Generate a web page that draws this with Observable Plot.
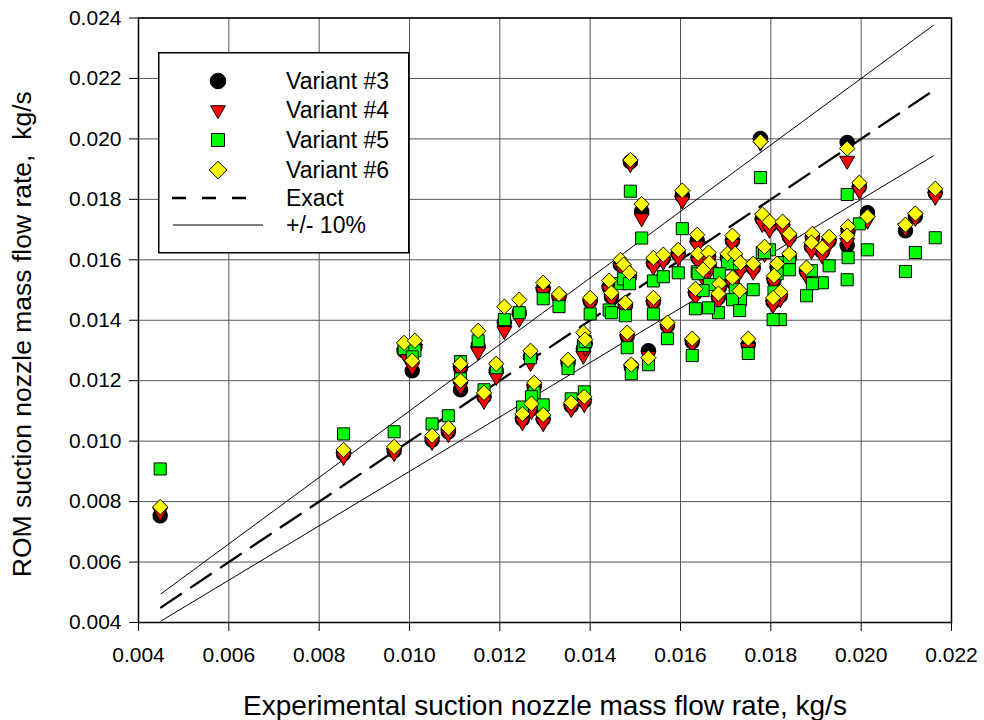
<!DOCTYPE html>
<html>
<head>
<meta charset="utf-8">
<script src="https://cdn.jsdelivr.net/npm/d3@7"></script>
<script src="https://cdn.jsdelivr.net/npm/@observablehq/plot@0.6"></script>
<style>
  body { margin: 0; background: #fff; }
  #chart { position: relative; width: 984px; height: 720px; font-family: "Liberation Sans", Arial, sans-serif; }
  #legend { position: absolute; left: 158px; top: 52px; }
</style>
</head>
<body>
<div id="chart"></div>
<script>
// Experimental suction nozzle mass flow rate (kg/s), one entry per test point
const expX = [
  0.00448, 0.00854, 0.00966, 0.00988, 0.01012, 0.01006, 0.01113, 0.01113, 0.01152, 0.01165,
  0.01192, 0.01210, 0.01243, 0.01268, 0.01276, 0.01250, 0.01270, 0.01296, 0.01296, 0.01331,
  0.01351, 0.01358, 0.01387, 0.01385, 0.01389, 0.01400, 0.01442, 0.01447, 0.01467, 0.01474,
  0.01478, 0.01482, 0.01491, 0.01487, 0.01489, 0.01514, 0.01529, 0.01540, 0.01540, 0.01562,
  0.01571, 0.01595, 0.01604, 0.01626, 0.01637, 0.01715, 0.01777, 0.01781, 0.01797, 0.01826,
  0.01841, 0.01969, 0.01996, 0.02014, 0.02098, 0.02120, 0.02164, 0.01971, 0.01969, 0.01929,
  0.01914, 0.01892, 0.01890, 0.01879, 0.01786, 0.01841, 0.01814, 0.01807, 0.01821, 0.01805,
  0.01750, 0.01704, 0.01721, 0.01733, 0.01761, 0.01715, 0.01686, 0.01684, 0.01731, 0.01633,
  0.01639, 0.01662, 0.01664, 0.01650, 0.01050, 0.01086
];

// ROM predictions (kg/s) for each variant, same order as expX
const variant3 = [
  0.00753, 0.00958, 0.00968, 0.01299, 0.01312, 0.01233, 0.01243, 0.01170, 0.01315, 0.01147,
  0.01233, 0.01392, 0.01425, 0.01282, 0.01180, 0.01073, 0.01107, 0.01073, 0.01504, 0.01477,
  0.01259, 0.01117, 0.01134, 0.01306, 0.01322, 0.01464, 0.01510, 0.01478, 0.01584, 0.01575,
  0.01448, 0.01346, 0.01246, 0.01544, 0.01924, 0.01761, 0.01299, 0.01589, 0.01461, 0.01604,
  0.01382, 0.01620, 0.01812, 0.01329, 0.01663, 0.01663, 0.02001, 0.01736, 0.01713, 0.01716,
  0.01676, 0.01988, 0.01842, 0.01756, 0.01696, 0.01743, 0.01822, 0.01696, 0.01647, 0.01663,
  0.01627, 0.01673, 0.01643, 0.01561, 0.01630, 0.01607, 0.01574, 0.01534, 0.01481, 0.01461,
  0.01319, 0.01607, 0.01604, 0.01577, 0.01574, 0.01527, 0.01508, 0.01475, 0.01485, 0.01491,
  0.01607, 0.01610, 0.01577, 0.01554, 0.01004, 0.01031
];
const variant4 = [
  0.00766, 0.00948, 0.00961, 0.01292, 0.01306, 0.01246, 0.01233, 0.01180, 0.01296, 0.01134,
  0.01213, 0.01365, 0.01405, 0.01259, 0.01173, 0.01063, 0.01100, 0.01060, 0.01494, 0.01467,
  0.01253, 0.01107, 0.01123, 0.01283, 0.01309, 0.01454, 0.01500, 0.01471, 0.01574, 0.01564,
  0.01438, 0.01339, 0.01240, 0.01534, 0.01917, 0.01738, 0.01282, 0.01577, 0.01451, 0.01594,
  0.01372, 0.01607, 0.01796, 0.01322, 0.01647, 0.01653, 0.01988, 0.01719, 0.01700, 0.01703,
  0.01663, 0.01928, 0.01829, 0.01730, 0.01706, 0.01739, 0.01809, 0.01690, 0.01657, 0.01653,
  0.01614, 0.01663, 0.01630, 0.01547, 0.01620, 0.01597, 0.01564, 0.01524, 0.01471, 0.01451,
  0.01309, 0.01594, 0.01590, 0.01564, 0.01561, 0.01518, 0.01498, 0.01465, 0.01471, 0.01478,
  0.01594, 0.01597, 0.01564, 0.01541, 0.00998, 0.01024
];
const variant5 = [
  0.00908, 0.01024, 0.01031, 0.01306, 0.01299, 0.01279, 0.01263, 0.01206, 0.01332, 0.01170,
  0.01243, 0.01402, 0.01425, 0.01276, 0.01160, 0.01113, 0.01147, 0.01120, 0.01471, 0.01445,
  0.01240, 0.01140, 0.01163, 0.01316, 0.01329, 0.01421, 0.01434, 0.01425, 0.01521, 0.01537,
  0.01415, 0.01309, 0.01223, 0.01521, 0.01827, 0.01672, 0.01253, 0.01530, 0.01421, 0.01544,
  0.01339, 0.01557, 0.01703, 0.01283, 0.01560, 0.01587, 0.01872, 0.01624, 0.01633, 0.01591,
  0.01608, 0.01816, 0.01719, 0.01633, 0.01561, 0.01624, 0.01673, 0.01607, 0.01534, 0.01580,
  0.01524, 0.01521, 0.01564, 0.01481, 0.01624, 0.01567, 0.01554, 0.01494, 0.01402, 0.01402,
  0.01290, 0.01587, 0.01501, 0.01468, 0.01501, 0.01468, 0.01554, 0.01425, 0.01432, 0.01438,
  0.01554, 0.01441, 0.01518, 0.01498, 0.01057, 0.01084
];
const variant6 = [
  0.00782, 0.00971, 0.00981, 0.01325, 0.01332, 0.01266, 0.01256, 0.01200, 0.01365, 0.01160,
  0.01256, 0.01445, 0.01468, 0.01299, 0.01193, 0.01090, 0.01124, 0.01087, 0.01524, 0.01487,
  0.01269, 0.01127, 0.01147, 0.01359, 0.01336, 0.01474, 0.01531, 0.01491, 0.01600, 0.01584,
  0.01458, 0.01359, 0.01253, 0.01557, 0.01930, 0.01784, 0.01276, 0.01606, 0.01474, 0.01617,
  0.01392, 0.01633, 0.01829, 0.01339, 0.01683, 0.01680, 0.01991, 0.01751, 0.01726, 0.01726,
  0.01686, 0.01968, 0.01855, 0.01743, 0.01716, 0.01753, 0.01835, 0.01710, 0.01680, 0.01676,
  0.01640, 0.01686, 0.01657, 0.01574, 0.01643, 0.01620, 0.01587, 0.01547, 0.01494, 0.01474,
  0.01339, 0.01620, 0.01620, 0.01590, 0.01587, 0.01541, 0.01521, 0.01488, 0.01498, 0.01504,
  0.01620, 0.01624, 0.01590, 0.01567, 0.01018, 0.01044
];

// Axis ticks
const xTicks = [0.004, 0.006, 0.008, 0.010, 0.012, 0.014, 0.016, 0.018, 0.020, 0.022];
const yTicks = [0.004, 0.006, 0.008, 0.010, 0.012, 0.014, 0.016, 0.018, 0.020, 0.022, 0.024];

// Span of the reference lines (exact and +/- 10 %)
const refX = [0.0045, 0.0216];

const seriesNames = ["Variant #3", "Variant #4", "Variant #5", "Variant #6"];
const xTitle = "Experimental suction nozzle mass flow rate, kg/s";
const yTitle = "ROM suction nozzle mass flow rate,  kg/s";

const rows = expX.map((x, i) => ({x, v3: variant3[i], v4: variant4[i], v5: variant5[i], v6: variant6[i]}));

const font = '"Liberation Sans", Arial, sans-serif';

// Downward-pointing triangle symbol
const triangleDown = {
  draw(ctx, size) {
    const y = -Math.sqrt(size / (Math.sqrt(3) * 3));
    ctx.moveTo(0, -y * 2);
    ctx.lineTo(-Math.sqrt(3) * y, y);
    ctx.lineTo(Math.sqrt(3) * y, y);
    ctx.closePath();
  }
};

const plot = Plot.plot({
  width: 984,
  height: 720,
  marginLeft: 138,
  marginRight: 33,
  marginTop: 17.5,
  marginBottom: 98,
  style: {fontFamily: font, background: "#fff", color: "#000"},
  x: {domain: [0.004, 0.022]},
  y: {domain: [0.004, 0.024]},
  marks: [
    Plot.gridX(xTicks, {stroke: "#555", strokeOpacity: 1, strokeWidth: 1}),
    Plot.gridY(yTicks, {stroke: "#555", strokeOpacity: 1, strokeWidth: 1}),
    Plot.frame({stroke: "#000", strokeWidth: 1.5}),
    Plot.axisX(xTicks, {tickFormat: d3.format(".3f"), tickSize: 9, tickPadding: 16, fontSize: 21, label: null, stroke: "#000"}),
    Plot.axisY(yTicks, {tickFormat: d3.format(".3f"), tickSize: 9, tickPadding: 8, fontSize: 21, label: null, stroke: "#000"}),
    Plot.line(refX, {x: d => d, y: d => d, stroke: "#000", strokeWidth: 2.3, strokeDasharray: "24,12"}),
    Plot.line(refX, {x: d => d, y: d => d * 1.1, stroke: "#000", strokeWidth: 1}),
    Plot.line(refX, {x: d => d, y: d => d * 0.9, stroke: "#000", strokeWidth: 1}),
    Plot.dot(rows, {x: "x", y: "v3", symbol: "circle", r: 7, fill: "#000", stroke: "#000"}),
    Plot.dot(rows, {x: "x", y: "v4", symbol: triangleDown, r: 5.6, fill: "#ff0000", stroke: "#000", strokeWidth: 1}),
    Plot.dot(rows, {x: "x", y: "v5", symbol: "square", r: 6.8, fill: "#00ff00", stroke: "#000", strokeWidth: 1}),
    Plot.dot(rows, {x: "x", y: "v6", symbol: "diamond2", r: 6.9, fill: "#ffff00", stroke: "#000", strokeWidth: 1}),
    Plot.text([xTitle], {frameAnchor: "bottom", dy: 84, text: d => d, fontSize: 28, textAnchor: "middle", lineAnchor: "middle"}),
    Plot.text([yTitle], {frameAnchor: "left", dx: -116, dy: 14, rotate: -90, text: d => d, fontSize: 26.5, textAnchor: "middle", lineAnchor: "middle"})
  ]
});

const chart = document.getElementById("chart");
chart.appendChild(plot);

// Legend box drawn inside the plotting area
const legendItems = [
  {name: seriesNames[0], type: "circle", fill: "#000", size: 190},
  {name: seriesNames[1], type: "triangle", fill: "#ff0000", size: 95},
  {name: seriesNames[2], type: "square", fill: "#00ff00", size: 169},
  {name: seriesNames[3], type: "diamond", fill: "#ffff00", size: 200}
];
const rowY = [29, 58, 88, 118];
const legend = d3.create("svg")
  .attr("id", "legend")
  .attr("width", 252)
  .attr("height", 202)
  .style("font-family", font);
legend.append("rect")
  .attr("x", 0.75).attr("y", 0.75).attr("width", 250).attr("height", 200)
  .attr("fill", "#fff").attr("stroke", "#000").attr("stroke-width", 1.5);
legendItems.forEach((it, i) => {
  const sym = it.type === "circle" ? d3.symbolCircle
    : it.type === "triangle" ? triangleDown
    : it.type === "square" ? d3.symbolSquare : d3.symbolDiamond2;
  legend.append("path")
    .attr("transform", `translate(60,${rowY[i]})`)
    .attr("d", d3.symbol(sym, it.size)())
    .attr("fill", it.fill).attr("stroke", "#000").attr("stroke-width", 1);
  legend.append("text")
    .attr("x", 128).attr("y", rowY[i]).attr("dy", "0.35em")
    .attr("font-size", 23).text(it.name);
});
legend.append("line")
  .attr("x1", 14).attr("x2", 96).attr("y1", 146).attr("y2", 146)
  .attr("stroke", "#000").attr("stroke-width", 2.5).attr("stroke-dasharray", "14,16");
legend.append("text").attr("x", 128).attr("y", 146).attr("dy", "0.35em").attr("font-size", 23).text("Exact");
legend.append("line")
  .attr("x1", 15).attr("x2", 105).attr("y1", 173).attr("y2", 173)
  .attr("stroke", "#000").attr("stroke-width", 1);
legend.append("text").attr("x", 128).attr("y", 173).attr("dy", "0.35em").attr("font-size", 23).text("+/- 10%");
chart.appendChild(legend.node());
</script>
</body>
</html>
